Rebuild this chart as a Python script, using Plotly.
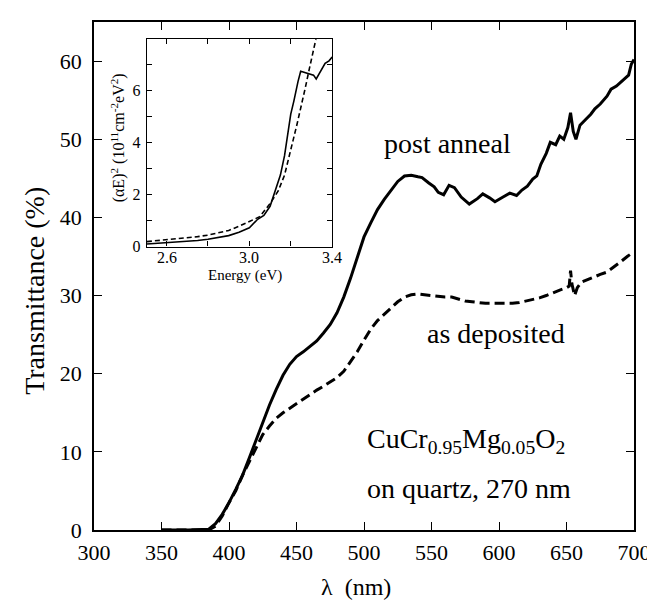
import plotly.graph_objects as go

# ---- main panel data: transmittance (%) vs wavelength (nm)
post_wl = [350, 370, 385, 390, 395, 400, 405, 410, 415, 420, 425, 430, 435, 440, 445, 450, 455, 460,
           465, 470, 475, 480, 485, 490, 495, 500, 505, 510, 515, 520, 525, 530, 535, 540, 543, 548,
           552, 555, 559, 563, 567, 572, 578, 584, 588, 593, 597, 603, 608, 613, 617, 621, 625, 628,
           631, 635, 638, 642, 645, 648, 651, 653, 655, 657, 660, 664, 668, 671, 675, 680, 683, 687,
           690, 693, 696, 698, 700]
post_T = [0, 0, 0.1, 0.8, 2, 3.5, 5.2, 7, 9.2, 11.5, 13.8, 16, 18, 19.8, 21.2, 22.2, 22.8, 23.5,
          24.2, 25.2, 26.3, 27.8, 29.8, 32.2, 35, 37.5, 39.3, 41, 42.3, 43.4, 44.6, 45.3, 45.4, 45.2,
          45.1, 44.4, 43.9, 43.2, 42.9, 44.1, 43.8, 42.6, 41.7, 42.4, 43, 42.5, 42, 42.6, 43.1, 42.8,
          43.5, 44, 44.9, 45.3, 46.8, 48.2, 49.6, 49.3, 50.4, 50, 51.5, 53.4, 51, 50, 51.8, 52.5,
          53.2, 53.9, 54.5, 55.5, 56.4, 56.8, 57.3, 57.7, 58.2, 59.6, 60.2]

asdep_wl = [350, 370, 385, 390, 395, 400, 405, 410, 415, 420, 425, 430, 435, 440, 445, 450, 455, 460,
            465, 470, 475, 480, 485, 490, 495, 500, 505, 510, 515, 520, 525, 530, 535, 540, 545, 550,
            555, 560, 565, 570, 575, 580, 585, 590, 595, 600, 605, 610, 615, 620, 625, 630, 635, 640,
            645, 650, 652, 653, 654, 656, 658, 661, 665, 670, 675, 680, 685, 690, 695, 700]
asdep_T = [0, 0, 0, 0.5, 1.8, 3.5, 5, 7, 8.8, 10.5, 12.2, 13.3, 14.3, 15, 15.6, 16.2, 16.8, 17.4,
           17.9, 18.4, 18.9, 19.5, 20.3, 21.5, 22.8, 24.3, 25.7, 26.8, 27.6, 28.5, 29.2, 29.8, 30.1,
           30.2, 30.1, 30, 29.9, 29.8, 29.8, 29.5, 29.3, 29.2, 29.1, 29, 29, 29, 29, 29, 29.1, 29.3,
           29.5, 29.7, 30, 30.4, 30.7, 31, 31.2, 33.2, 31.5, 30, 31, 31.7, 32, 32.4, 32.7, 33, 33.6,
           34.3, 35, 35.6]

# ---- inset data: (alpha E)^2 vs photon energy (eV)
inset_post_E = [2.505, 2.55, 2.6, 2.65, 2.7, 2.75, 2.8, 2.85, 2.9, 2.95, 3.0, 3.04, 3.07, 3.1, 3.12,
                3.15, 3.17, 3.185, 3.2, 3.215, 3.225, 3.235, 3.248, 3.27, 3.29, 3.31, 3.323, 3.34,
                3.366, 3.385, 3.4]
inset_post_y = [0.1, 0.12, 0.14, 0.16, 0.19, 0.23, 0.28, 0.34, 0.42, 0.55, 0.72, 1.05, 1.2, 1.55,
                2.05, 2.75, 3.5, 4.25, 5.1, 5.6, 6.0, 6.35, 6.75, 6.7, 6.65, 6.6, 6.45, 6.7, 7.05,
                7.15, 7.3]
inset_asdep_E = [2.505, 2.55, 2.6, 2.65, 2.7, 2.75, 2.8, 2.85, 2.9, 2.95, 3.0, 3.05, 3.1, 3.14,
                 3.17, 3.19, 3.21, 3.23, 3.25, 3.27, 3.29, 3.31, 3.322]
inset_asdep_y = [0.19, 0.22, 0.26, 0.29, 0.33, 0.38, 0.44, 0.52, 0.62, 0.78, 0.95, 1.15, 1.65, 2.15,
                 2.75, 3.35, 4.05, 4.7, 5.35, 6.1, 6.85, 7.6, 8.0]

main_xticks = [300, 350, 400, 450, 500, 550, 600, 650, 700]
main_yticks = [0, 10, 20, 30, 40, 50, 60]
inset_xticks = [2.6, 3.0, 3.4]
inset_xticktext = ["2.6", "3.0", "3.4"]
inset_yticks = [0, 2, 4, 6]

FONT = "Liberation Serif"


def f(size):
    return dict(family=FONT, size=size, color="black")


fig = go.Figure()
fig.add_trace(go.Scatter(x=post_wl, y=post_T, mode="lines",
                         line=dict(color="black", width=3), xaxis="x", yaxis="y"))
fig.add_trace(go.Scatter(x=asdep_wl, y=asdep_T, mode="lines",
                         line=dict(color="black", width=3, dash="10px,5px"), xaxis="x", yaxis="y"))
fig.add_trace(go.Scatter(x=inset_post_E, y=inset_post_y, mode="lines",
                         line=dict(color="black", width=1.6), xaxis="x2", yaxis="y2"))
fig.add_trace(go.Scatter(x=inset_asdep_E, y=inset_asdep_y, mode="lines",
                         line=dict(color="black", width=1.6, dash="5px,3px"), xaxis="x2", yaxis="y2"))

axis_common = dict(showgrid=False, zeroline=False, showline=True, linecolor="black",
                   mirror="ticks", ticks="inside", tickcolor="black")

fig.update_layout(
    width=655, height=601,
    margin=dict(l=86, r=18, t=13, b=79),
    paper_bgcolor="white", plot_bgcolor="white",
    showlegend=False,
    font=f(16),
    xaxis=dict(domain=[0, 1], range=[300, 700], tickvals=main_xticks, ticklen=8, linewidth=1.5,
               tickwidth=1.3, tickfont=f(22), ticklabelstandoff=2, **axis_common),
    yaxis=dict(domain=[0, 1], range=[0, 65], tickvals=main_yticks, ticklen=8, linewidth=1.5,
               tickwidth=1.3, tickfont=f(22), ticklabelstandoff=6, **axis_common),
    xaxis2=dict(domain=[0.098, 0.441], anchor="y2", range=[2.505, 3.4], tickvals=inset_xticks,
                showticklabels=False,
                ticklen=5, linewidth=1.2, tickwidth=1,
                minor=dict(dtick=0.2, tick0=2.6, ticklen=5, ticks="inside", tickcolor="black"),
                **axis_common),
    yaxis2=dict(domain=[0.558, 0.966], anchor="x2", range=[0, 7.98], tickvals=inset_yticks,
                ticklen=5, linewidth=1.2, tickwidth=1, tickfont=f(16),
                minor=dict(dtick=1, tick0=0, ticklen=5, ticks="inside", tickcolor="black"),
                ticklabelstandoff=2, **axis_common),
)

annotations = [
    dict(text="Transmittance (%)", xref="paper", yref="paper", x=-0.109, y=0.471,
         textangle=-90, showarrow=False, font=f(28), xanchor="center", yanchor="middle"),
    dict(text="λ  (nm)", xref="paper", yref="paper", x=0.4846, y=-0.112,
         showarrow=False, font=f(24), xanchor="center", yanchor="middle"),
    dict(text="(αE)<sup>2</sup> (10<sup>11</sup>cm<sup>-2</sup>eV<sup>2</sup>)",
         xref="paper", yref="paper", x=0.0454, y=0.772, textangle=-90, showarrow=False,
         font=f(16), xanchor="center", yanchor="middle"),
    dict(text="Energy (eV)", xref="paper", yref="paper", x=0.279, y=0.5005,
         showarrow=False, font=f(15), xanchor="center", yanchor="middle"),
    dict(text="post anneal", xref="x", yref="y", x=561.5, y=49.5, showarrow=False,
         font=f(28), xanchor="center", yanchor="middle"),
    dict(text="as deposited", xref="x", yref="y", x=598, y=25.1, showarrow=False,
         font=f(28), xanchor="center", yanchor="middle"),
    dict(text="CuCr<sub>0.95</sub>Mg<sub>0.05</sub>O<sub>2</sub>", xref="x", yref="y", x=501,
         y=11.5, showarrow=False, font=f(28), xanchor="left", yanchor="middle"),
    dict(text="on quartz, 270 nm", xref="x", yref="y", x=501, y=5.3, showarrow=False,
         font=f(28), xanchor="left", yanchor="middle"),
]
for v, t in zip(inset_xticks, inset_xticktext):
    annotations.append(dict(text=t, xref="x2", yref="paper", x=v, y=0.5367, showarrow=False,
                            font=f(16), xanchor="center", yanchor="middle"))
fig.update_layout(annotations=annotations)

fig.write_html("out.html")
